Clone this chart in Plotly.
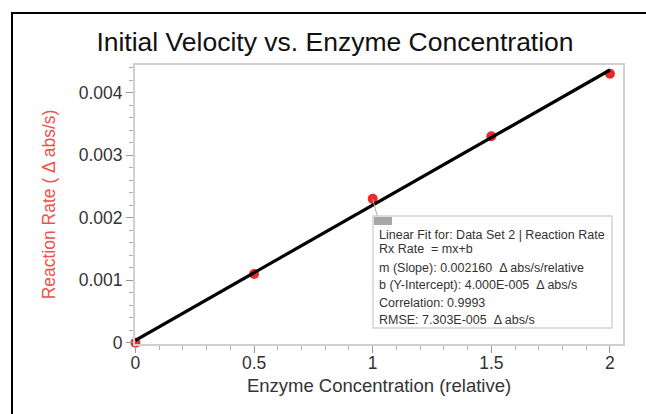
import plotly.graph_objects as go

# Measured data
enzyme_conc = [0, 0.5, 1.0, 1.5, 2.0]
reaction_rate = [0.0, 0.0011, 0.0023, 0.0033, 0.0043]

# Linear fit results
slope = 0.002160
intercept = 4.000e-05
fit_x = [0, 2]
fit_lines = [
    "Linear Fit for: Data Set 2 | Reaction Rate",
    "Rx Rate  = mx+b",
    "m (Slope): 0.002160  \u0394 abs/s/relative",
    "b (Y-Intercept): 4.000E-005  \u0394 abs/s",
    "Correlation: 0.9993",
    "RMSE: 7.303E-005  \u0394 abs/s",
]

W, H = 646, 414
L, R, T, B = 135, 23, 65, 70
pw, ph = W - L - R, H - T - B
FONT = "Liberation Sans, Arial"


def px(x):
    return (x - L) / pw


def py(y):
    return (H - B - y) / ph


fig = go.Figure()

fig.add_trace(go.Scatter(
    x=enzyme_conc, y=reaction_rate, mode="markers",
    marker=dict(color="#ec2a2a", size=10),
    showlegend=False, cliponaxis=False,
))
fig.add_trace(go.Scatter(
    x=fit_x, y=[slope * x + intercept for x in fit_x], mode="lines",
    line=dict(color="black", width=3.2),
    showlegend=False,
))

shapes = []
# outer frame (left and top edges fall inside the page)
shapes.append(dict(type="line", xref="paper", yref="paper",
                   x0=px(12), x1=px(12), y0=py(420), y1=py(13),
                   line=dict(color="black", width=2), layer="below"))
shapes.append(dict(type="line", xref="paper", yref="paper",
                   x0=px(11), x1=px(660), y0=py(13), y1=py(13),
                   line=dict(color="black", width=2), layer="below"))
# fit info box
bx0, bx1, by0, by1 = 373, 612, 216, 328
shapes.append(dict(type="rect", xref="paper", yref="paper",
                   x0=px(bx0), x1=px(bx1), y0=py(by1), y1=py(by0),
                   line=dict(color="#d4d4d4", width=1.5), fillcolor="white"))
shapes.append(dict(type="rect", xref="paper", yref="paper",
                   x0=px(bx0 + 1), x1=px(bx0 + 19), y0=py(225), y1=py(217),
                   line=dict(width=0), fillcolor="#a8a8a8"))
# connector from the fitted point to the box
shapes.append(dict(type="line", xref="x", yref="y",
                   x0=1.0, y0=reaction_rate[2], x1=(bx0 + 4 - L) / 237.5, y1=(H - B - 217) / 62600,
                   line=dict(color="#b0b0b0", width=1)))

annotations = []
line_y = [235, 249, 268, 285, 303, 320]
for txt, yy in zip(fit_lines, line_y):
    annotations.append(dict(
        xref="paper", yref="paper", x=px(bx0 + 4), y=py(yy),
        xanchor="left", yanchor="middle", showarrow=False, text=txt,
        font=dict(family=FONT, size=12.5, color="#333333"),
    ))

fig.update_layout(
    width=W, height=H,
    margin=dict(l=L, r=R, t=T, b=B),
    paper_bgcolor="white", plot_bgcolor="white",
    title=dict(text="Initial Velocity vs. Enzyme Concentration",
               x=335 / W, xanchor="center", y=1 - 42 / H, yanchor="middle",
               font=dict(family=FONT, size=26.5, color="#111111")),
    shapes=shapes, annotations=annotations,
    xaxis=dict(
        range=[-0.002, 2.055], tickvals=[0, 0.5, 1, 1.5, 2], ticktext=["0", "0.5", "1", "1.5", "2"],
        showgrid=False, zeroline=False, showline=True, linecolor="#d0d0d0", linewidth=2, mirror=True,
        ticks="outside", ticklen=7, tickcolor="#9a9a9a", tickwidth=1, ticklabelstandoff=-5,
        minor=dict(dtick=0.1, ticks="outside", ticklen=4, tickcolor="#b0b0b0"),
        tickfont=dict(family=FONT, size=17.5, color="#333333"),
        title=dict(text="Enzyme Concentration (relative)", standoff=7,
                   font=dict(family=FONT, size=18.5, color="#333333")),
    ),
    yaxis=dict(
        range=[-0.00002, 0.00444], tickvals=[0, 0.001, 0.002, 0.003, 0.004],
        ticktext=["0", "0.001", "0.002", "0.003", "0.004"],
        showgrid=False, zeroline=False, showline=True, linecolor="#d0d0d0", linewidth=2, mirror=True,
        ticks="outside", ticklen=7, tickcolor="#9a9a9a", tickwidth=1,
        minor=dict(dtick=0.0002, ticks="outside", ticklen=4, tickcolor="#b0b0b0"),
        tickfont=dict(family=FONT, size=17.5, color="#333333"),
        title=dict(text="Reaction Rate ( \u0394 abs/s)", standoff=19,
                   font=dict(family=FONT, size=17.5, color="#f0504a")),
    ),
)

fig.write_html("out.html")
